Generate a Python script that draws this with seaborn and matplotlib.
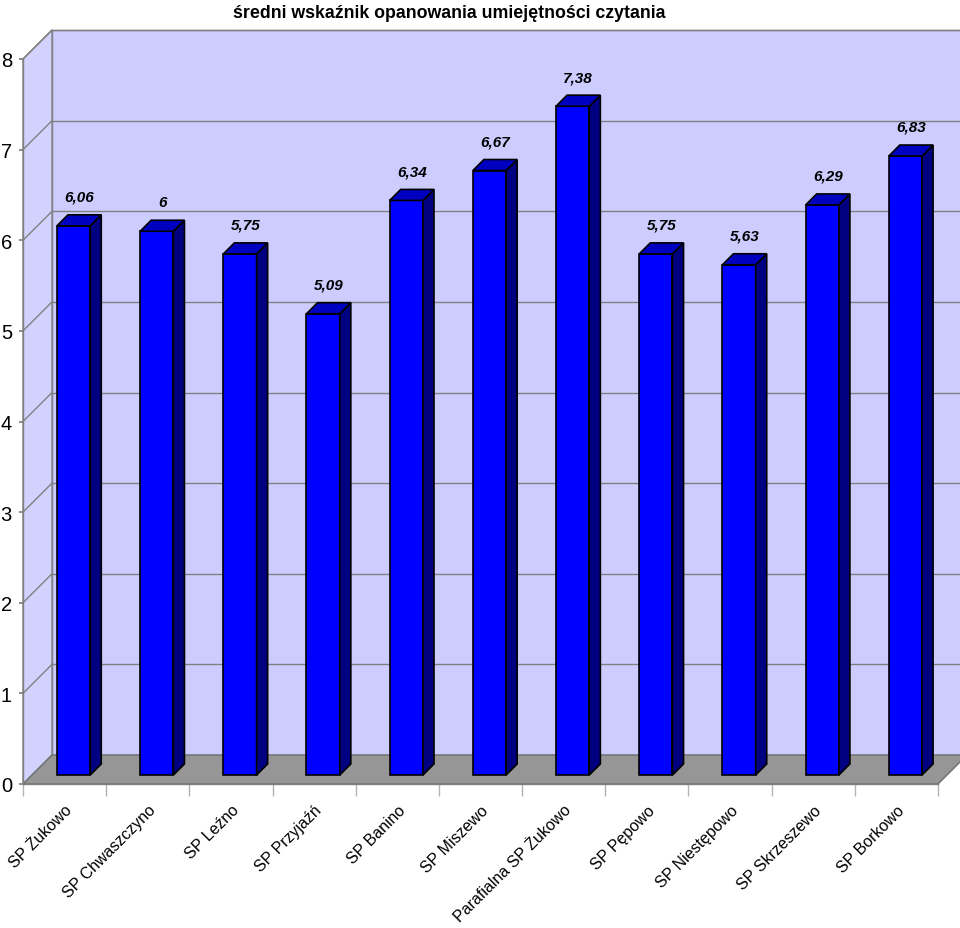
import numpy as np
import pandas as pd
import seaborn as sns
import matplotlib.pyplot as plt
from matplotlib.patches import Polygon
from matplotlib.lines import Line2D

schools = ["SP Żukowo", "SP Chwaszczyno", "SP Leźno", "SP Przyjaźń", "SP Banino", "SP Miszewo",
           "Parafialna SP Żukowo", "SP Pępowo", "SP Niestępowo", "SP Skrzeszewo", "SP Borkowo"]
scores = [6.06, 6, 5.75, 5.09, 6.34, 6.67, 7.38, 5.75, 5.63, 6.29, 6.83]
y_ticks = [0, 1, 2, 3, 4, 5, 6, 7, 8]
title = "średni wskaźnik opanowania umiejętności czytania"

sns.set_theme(style="white")
fonts = ['Liberation Sans', 'DejaVu Sans']
plt.rcParams['font.family'] = fonts

W, H = 960, 929
fig = plt.figure(figsize=(W / 100, H / 100), dpi=100)
fig.patch.set_facecolor('white')
ax = fig.add_axes([23 / W, 1 - 785 / H, (938 - 23) / W, (785 - 60) / H])
ax.set_facecolor('none')

n = len(schools)
x0, x1 = -0.5, n - 0.5
ymax = y_ticks[-1]
DX, DY = 0.349, 0.32   # depth of the 3d box in data units
f0, fd = 0.31, 0.38    # where the bars sit in depth, and their depth

# walls and floor
back = Polygon([(x0 + DX, DY), (x1 + DX, DY), (x1 + DX, ymax + DY), (x0 + DX, ymax + DY)],
               closed=True, fc='#ccccff', ec='#808080', lw=1, zorder=0, clip_on=False)
side = Polygon([(x0, 0), (x0 + DX, DY), (x0 + DX, ymax + DY), (x0, ymax)],
               closed=True, fc='#d2d2ff', ec='#808080', lw=1, zorder=0, clip_on=False)
ax.add_patch(back)
ax.add_patch(side)
for k in y_ticks[1:]:
    ax.add_line(Line2D([x0 + DX, x1 + DX], [k + DY, k + DY], color='#808080', lw=1, zorder=1, clip_on=False))
    ax.add_line(Line2D([x0, x0 + DX], [k, k + DY], color='#808080', lw=1, zorder=1, clip_on=False))
floor = Polygon([(x0, 0), (x1, 0), (x1 + DX, DY), (x0 + DX, DY)],
                closed=True, fc='#969696', ec='#6e6e6e', lw=1, zorder=1, clip_on=False)
ax.add_patch(floor)

df = pd.DataFrame({'school': schools, 'score': scores})
sns.barplot(data=df, x='school', y='score', width=0.4, color='#0000ff', saturation=1,
            edgecolor='black', linewidth=1.2, ax=ax, zorder=5)

# extrude the bars
bars = list(ax.patches)[3:]
dxb, dyb = fd * DX, fd * DY
for p, v in zip(bars, scores):
    p.set_x(p.get_x() + f0 * DX)
    p.set_y(f0 * DY)
    p.set_clip_on(False)
    bx, bw, bh, by = p.get_x(), p.get_width(), p.get_height(), p.get_y()
    r = bx + bw
    ax.add_patch(Polygon([(r, by), (r + dxb, by + dyb), (r + dxb, by + bh + dyb), (r, by + bh)],
                         closed=True, fc='#000080', ec='black', lw=1.2, zorder=5, clip_on=False))
    ax.add_patch(Polygon([(bx, by + bh), (r, by + bh), (r + dxb, by + bh + dyb), (bx + dxb, by + bh + dyb)],
                         closed=True, fc='#0000c0', ec='black', lw=1.2, zorder=5, clip_on=False))
    lab = f"{v:g}".replace('.', ',')
    ax.text(bx + bw / 2 + dxb / 2, by + bh + dyb + 0.2, lab, ha='center', va='center',
            fontsize=11, fontweight='bold', fontstyle='italic', color='black')

ax.set_xlim(x0, x1)
ax.set_ylim(0, ymax)
sns.despine(ax=ax, top=True, right=True)
for s in ['left', 'bottom']:
    ax.spines[s].set_color('#808080')
    ax.spines[s].set_linewidth(1)
ax.set_xlabel('')
ax.set_ylabel('')
ax.set_yticks(y_ticks)
ax.set_yticklabels([str(t) for t in y_ticks], fontsize=14.5, color='black')
ax.tick_params(axis='y', left=True, length=3, color='#808080', pad=5)
ax.set_xticks(range(n))
ax.set_xticklabels(schools, rotation=45, ha='right', rotation_mode='anchor', fontsize=11.5, color='black')
ax.tick_params(axis='x', which='major', bottom=True, length=0, pad=13)
ax.set_xticks(np.arange(n + 1) - 0.5, minor=True)
ax.tick_params(axis='x', which='minor', bottom=True, length=8.6, color='#b4b4b4', width=1)
ax.grid(False)

fig.text(449 / W, 1 - 14 / H, title, ha='center', va='center', fontsize=12.8,
         fontweight='bold', color='black')

fig.savefig('out.png', dpi=100)
